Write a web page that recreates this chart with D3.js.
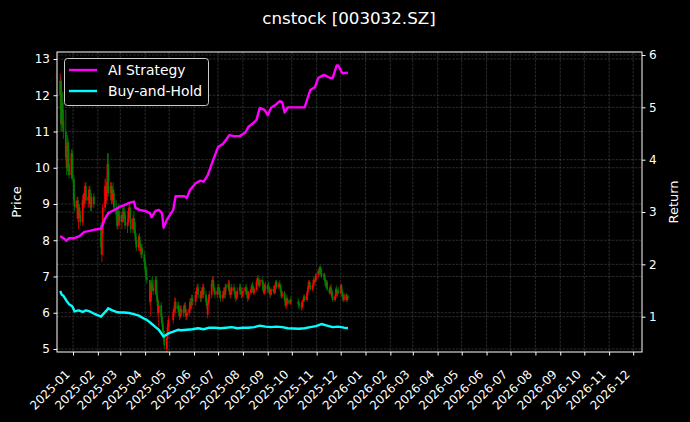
<!DOCTYPE html>
<html><head><meta charset="utf-8">
<script src="https://cdn.jsdelivr.net/npm/d3@7"></script>
<style>
body{margin:0;background:#000;}
svg{display:block;}
text{font-family:"DejaVu Sans",sans-serif;fill:#fff;}
</style>
</head><body>
<svg id="chart" width="690" height="422"></svg>
<script>
// ---------------- DATA ----------------
const chartTitle = "cnstock [003032.SZ]";
const seriesNames = ["AI Strategy", "Buy-and-Hold"];
const priceTicks = [5, 6, 7, 8, 9, 10, 11, 12, 13];
const returnTicks = [1, 2, 3, 4, 5, 6];
const monthLabels = ["2025-01","2025-02","2025-03","2025-04","2025-05","2025-06","2025-07","2025-08","2025-09","2025-10","2025-11","2025-12",
  "2026-01","2026-02","2026-03","2026-04","2026-05","2026-06","2026-07","2026-08","2026-09","2026-10","2026-11","2026-12"];
const firstTradeDay = "2024-12-16";
const lastTradeDay = "2025-12-10";
const marketHolidays = ["2025-01-01","2025-01-28","2025-01-29","2025-01-30","2025-01-31","2025-02-03","2025-02-04",
  "2025-04-04","2025-05-01","2025-05-02","2025-05-05","2025-06-02",
  "2025-10-01","2025-10-02","2025-10-03","2025-10-06","2025-10-07","2025-10-08"];

// daily candles [open, high, low, close]
const ohlc = [
  // 2024-12
  [12.0,12.6,11.6,12.4],[12.4,12.5,11.0,11.2],[11.2,12.0,11.0,11.8],[11.8,12.1,11.1,11.3],[11.3,11.6,10.8,11.0],
  [11.0,11.6,10.2,10.3],[10.3,10.6,9.8,10.0],[10.0,10.9,9.9,10.7],[10.7,10.8,9.9,10.1],[10.1,10.5,9.7,9.8],
  [9.8,10.5,9.7,10.4],[10.4,10.5,9.6,9.7],
  // 2025-01
  [9.7,9.8,9.0,9.1],[9.1,9.3,8.8,8.9],[8.9,9.2,8.6,9.1],[9.1,9.2,8.5,8.6],[8.6,9.0,8.3,8.9],[8.9,9.0,8.6,8.7],
  [8.7,8.8,8.4,8.5],[8.5,9.25,8.4,9.1],[9.1,9.3,8.9,9.0],[9.0,9.4,8.9,9.3],[9.3,9.6,9.1,9.5],[9.5,9.6,9.0,9.1],
  [9.1,9.3,8.9,9.2],[9.2,9.5,9.0,9.4],[9.4,9.5,8.9,9.0],[9.0,9.2,8.8,8.9],[8.9,9.3,8.8,9.2],[9.2,9.3,8.9,9.0],
  // 2025-02
  [8.4,8.5,7.6,7.8],[7.6,8.3,7.4,8.2],[8.2,9.0,8.1,8.9],[8.9,9.7,8.8,9.5],[9.5,9.7,9.0,9.1],[9.1,9.6,9.0,9.4],
  [9.4,10.4,9.3,10.1],[10.1,10.4,9.2,9.3],[9.3,9.6,9.1,9.5],[9.5,9.6,9.0,9.1],[9.1,9.5,9.0,9.4],[9.4,9.6,9.2,9.3],
  [9.3,9.4,8.8,8.9],[8.9,9.1,8.6,8.7],[8.7,8.9,8.3,8.4],[8.4,8.9,8.3,8.8],[8.8,9.0,8.6,8.7],[8.7,8.8,8.4,8.5],
  // 2025-03
  [8.5,8.8,8.3,8.7],[8.7,8.9,8.5,8.6],[8.6,8.9,8.5,8.8],[8.8,9.0,8.6,8.7],[8.7,8.8,8.3,8.4],[8.4,8.6,8.2,8.5],
  [8.5,8.9,8.4,8.8],[8.8,9.05,8.7,8.9],[8.9,9.0,8.5,8.6],[8.6,8.8,8.2,8.3],[8.3,8.7,8.2,8.6],[8.6,8.8,8.4,8.5],
  [8.5,8.6,8.1,8.2],[8.2,8.3,7.9,8.0],[8.0,8.1,7.7,7.8],[7.8,8.15,7.7,8.1],[8.1,8.2,7.8,7.9],[7.9,8.0,7.6,7.7],
  [7.7,7.9,7.5,7.8],[7.8,7.9,7.5,7.6],[7.6,7.7,7.3,7.4],
  // 2025-04
  [7.4,7.5,7.1,7.2],[7.2,7.3,6.9,7.0],[7.0,7.26,6.8,6.9],[6.9,6.9,6.2,6.3],[6.3,6.8,5.9,6.6],[6.6,6.9,6.4,6.8],
  [6.8,7.0,6.6,6.7],[6.7,6.9,6.5,6.6],[6.6,7.0,6.5,6.9],[6.9,7.0,6.4,6.5],[6.5,6.6,6.2,6.3],[6.3,6.4,5.9,6.0],
  [6.0,6.35,5.6,6.2],[6.2,6.3,5.8,5.9],[5.9,6.0,5.6,5.7],[5.7,5.8,5.4,5.5],[5.5,5.6,5.2,5.3],[5.4,5.5,5.0,5.1],
  [5.0,5.4,4.9,5.3],[5.3,5.7,5.25,5.6],[5.6,5.9,5.5,5.8],
  // 2025-05
  [5.8,6.1,5.7,6.0],[6.0,6.2,5.9,6.1],[6.1,6.43,6.0,6.3],[6.3,6.4,6.0,6.1],[6.1,6.3,6.0,6.2],[6.2,6.3,5.9,6.0],
  [6.0,6.1,5.8,5.9],[5.9,6.2,5.85,6.1],[6.1,6.2,5.9,6.0],[6.0,6.2,5.9,6.1],[6.1,6.27,6.0,6.2],[6.2,6.3,5.9,6.0],
  [6.0,6.1,5.8,5.9],[5.9,6.1,5.8,6.0],[6.0,6.2,5.9,6.1],[6.1,6.4,6.0,6.3],[6.3,6.4,6.1,6.2],[6.2,6.5,6.1,6.4],
  [6.4,6.5,6.2,6.3],
  // 2025-06
  [6.3,6.6,6.2,6.5],[6.5,6.7,6.4,6.6],[6.6,6.8,6.5,6.7],[6.7,6.8,6.4,6.5],[6.5,6.6,6.3,6.4],[6.4,6.7,6.3,6.6],
  [6.6,6.7,6.4,6.5],[6.5,6.8,6.4,6.7],[6.7,6.8,6.4,6.5],[6.5,6.6,6.2,6.3],[6.3,6.4,6.1,6.2],[5.95,6.3,5.85,6.25],
  [6.25,6.5,6.2,6.4],[6.4,6.6,6.3,6.5],[6.5,6.9,6.4,6.8],[6.8,7.0,6.7,6.9],[6.9,7.0,6.6,6.7],[6.7,6.8,6.5,6.6],
  [6.6,6.7,6.4,6.5],[6.5,6.7,6.4,6.6],
  // 2025-07
  [6.6,6.8,6.5,6.7],[6.7,6.8,6.5,6.6],[6.6,6.7,6.4,6.5],[6.5,6.6,6.3,6.4],[6.4,6.6,6.3,6.5],[6.5,6.7,6.4,6.6],
  [6.6,6.7,6.4,6.5],[6.5,6.8,6.4,6.7],[6.75,6.8,6.6,6.7],[6.7,6.9,6.6,6.8],[6.8,6.9,6.5,6.6],[6.6,6.7,6.4,6.5],
  [6.5,6.7,6.4,6.6],[6.6,6.8,6.5,6.7],[6.7,6.8,6.5,6.6],[6.6,6.7,6.4,6.5],[6.5,6.6,6.3,6.4],[6.4,6.6,6.35,6.5],
  [6.5,6.7,6.4,6.6],[6.6,6.8,6.5,6.7],[6.7,6.8,6.5,6.6],[6.6,6.7,6.4,6.5],[6.5,6.6,6.4,6.55],
  // 2025-08
  [6.55,6.7,6.45,6.6],[6.6,6.75,6.5,6.7],[6.7,6.8,6.5,6.6],[6.6,6.7,6.4,6.5],[6.5,6.6,6.3,6.4],[6.4,6.6,6.35,6.55],
  [6.55,6.7,6.5,6.65],[6.65,6.8,6.55,6.75],[6.75,6.85,6.6,6.7],[6.7,6.75,6.5,6.55],[6.55,6.7,6.5,6.65],[6.65,6.9,6.6,6.85],
  [6.85,7.0,6.75,6.95],[6.95,7.04,6.8,6.85],[6.85,6.9,6.7,6.75],[6.75,6.95,6.7,6.9],[6.9,7.0,6.8,6.85],[6.85,6.9,6.6,6.65],
  [6.65,6.7,6.5,6.55],[6.55,6.8,6.5,6.75],[6.75,6.85,6.6,6.65],
  // 2025-09
  [6.65,6.8,6.55,6.75],[6.75,6.85,6.6,6.65],[6.65,6.7,6.5,6.55],[6.55,6.6,6.4,6.5],[6.5,6.7,6.45,6.65],[6.65,6.75,6.55,6.6],
  [6.6,6.7,6.5,6.55],[6.55,6.8,6.5,6.75],[6.75,6.9,6.7,6.85],[6.85,6.9,6.65,6.7],[6.7,6.85,6.65,6.8],[6.8,6.9,6.7,6.75],
  [6.75,6.8,6.55,6.6],[6.6,6.65,6.4,6.45],[6.45,6.6,6.4,6.55],[6.55,6.6,6.3,6.35],[6.35,6.4,6.15,6.2],[6.2,6.45,6.1,6.4],
  [6.4,6.5,6.3,6.35],[6.35,6.4,6.2,6.25],[6.25,6.4,6.2,6.35],[6.35,6.45,6.25,6.3],
  // 2025-10
  [6.3,6.4,6.15,6.25],[6.25,6.35,6.1,6.2],[6.2,6.3,6.05,6.15],[6.15,6.35,6.1,6.3],[6.3,6.4,6.2,6.35],[6.35,6.5,6.3,6.45],
  [6.45,6.5,6.3,6.35],[6.35,6.6,6.3,6.55],[6.55,6.75,6.5,6.7],[6.7,6.9,6.65,6.85],[6.85,6.9,6.7,6.75],[6.75,6.85,6.6,6.65],
  [6.65,6.8,6.6,6.75],[6.75,6.95,6.7,6.9],[6.9,7.0,6.8,6.85],[6.85,6.95,6.75,6.9],[6.9,7.1,6.85,7.05],
  // 2025-11
  [7.05,7.2,6.95,7.15],[7.15,7.25,7.0,7.1],[7.1,7.3,7.05,7.25],[7.25,7.3,7.05,7.1],[7.1,7.2,6.95,7.0],[7.0,7.1,6.9,7.05],
  [7.05,7.1,6.85,6.9],[6.9,6.95,6.7,6.75],[6.75,6.9,6.7,6.85],[6.85,6.9,6.6,6.65],[6.65,6.7,6.5,6.55],[6.55,6.75,6.5,6.7],
  [6.7,6.8,6.55,6.6],[6.6,6.65,6.4,6.45],[6.45,6.55,6.3,6.35],[6.35,6.5,6.3,6.45],[6.45,6.7,6.4,6.65],[6.65,6.75,6.5,6.55],
  [6.55,6.65,6.45,6.6],[6.6,6.7,6.5,6.55],
  // 2025-12
  [6.55,6.8,6.5,6.75],[6.75,6.8,6.55,6.6],[6.6,6.65,6.4,6.45],[6.45,6.5,6.3,6.35],[6.35,6.55,6.3,6.5],[6.5,6.55,6.3,6.35],
  [6.35,6.5,6.3,6.45],[6.45,6.5,6.35,6.4]
];

const aiDates = ["2024-12-16","2024-12-18","2024-12-20","2024-12-24","2024-12-27","2025-01-03","2025-01-09","2025-01-15","2025-01-22","2025-01-27",
  "2025-02-05","2025-02-10","2025-02-14","2025-02-19","2025-02-24","2025-02-28","2025-03-06","2025-03-13","2025-03-18","2025-03-20","2025-03-25",
  "2025-04-01","2025-04-07","2025-04-09","2025-04-14","2025-04-18","2025-04-22","2025-04-24","2025-04-28","2025-05-06","2025-05-09","2025-05-14",
  "2025-05-20","2025-05-23","2025-05-27","2025-06-03","2025-06-09","2025-06-13","2025-06-18","2025-06-25","2025-07-01","2025-07-07","2025-07-11",
  "2025-07-15","2025-07-21","2025-07-28","2025-08-04","2025-08-08","2025-08-14","2025-08-18","2025-08-22","2025-08-28","2025-09-01","2025-09-05",
  "2025-09-11","2025-09-16","2025-09-19","2025-09-22","2025-09-26","2025-10-15","2025-10-17","2025-10-24","2025-10-30","2025-11-03","2025-11-10",
  "2025-11-18","2025-11-21","2025-11-26","2025-11-28","2025-12-03","2025-12-10"];
const aiReturn = [2.54,2.52,2.5,2.45,2.5,2.5,2.54,2.62,2.64,2.66,
  2.68,2.88,2.98,3.02,3.06,3.1,3.13,3.18,3.2,3.08,3.04,
  3.02,2.98,2.9,3.02,3.04,2.98,2.7,2.85,3.04,3.3,3.3,
  3.3,3.27,3.42,3.55,3.6,3.58,3.7,4.0,4.24,4.3,4.38,
  4.47,4.45,4.45,4.52,4.63,4.7,4.76,4.99,4.95,4.85,4.99,
  5.05,5.12,5.1,4.9,5.0,5.0,5.0,5.33,5.39,5.56,5.62,
  5.56,5.56,5.8,5.8,5.65,5.66];

const bhDates = ["2024-12-16","2024-12-18","2024-12-20","2024-12-24","2024-12-27","2024-12-31","2025-01-03","2025-01-08","2025-01-13","2025-01-17",
  "2025-01-22","2025-01-27","2025-02-05","2025-02-07","2025-02-12","2025-02-14","2025-02-19","2025-02-24","2025-02-28","2025-03-06","2025-03-12",
  "2025-03-18","2025-03-24","2025-03-31","2025-04-03","2025-04-08","2025-04-14","2025-04-18","2025-04-24","2025-04-28","2025-04-30","2025-05-07",
  "2025-05-12","2025-05-16","2025-05-23","2025-05-30","2025-06-06","2025-06-13","2025-06-20","2025-06-27","2025-07-04","2025-07-11","2025-07-18",
  "2025-07-25","2025-08-01","2025-08-08","2025-08-15","2025-08-22","2025-08-29","2025-09-05","2025-09-12","2025-09-19","2025-09-26","2025-10-10",
  "2025-10-17","2025-10-24","2025-10-31","2025-11-07","2025-11-14","2025-11-21","2025-11-28","2025-12-05","2025-12-10"];
const bhReturn = [1.49,1.42,1.4,1.3,1.24,1.2,1.1,1.12,1.09,1.12,
  1.1,1.06,1.0,1.04,1.12,1.16,1.12,1.09,1.08,1.08,1.07,
  1.05,1.02,0.96,0.94,0.88,0.8,0.75,0.62,0.66,0.68,0.72,
  0.75,0.74,0.75,0.76,0.78,0.76,0.79,0.79,0.78,0.79,0.8,
  0.78,0.79,0.79,0.8,0.83,0.81,0.8,0.81,0.8,0.78,0.77,
  0.78,0.8,0.82,0.86,0.83,0.8,0.81,0.79,0.78];

// ---------------- CHART ----------------
const W = 690, H = 422;
const M = {left: 57, right: 642, top: 52, bottom: 352};
const parse = d3.utcParse("%Y-%m-%d");
const fmt = d3.utcFormat("%Y-%m-%d");
const holidaySet = new Set(marketHolidays);
const tradeDates = d3.utcDays(parse(firstTradeDay), d3.utcDay.offset(parse(lastTradeDay), 1))
  .filter(d => d.getUTCDay() % 6 !== 0 && !holidaySet.has(fmt(d)));
const n = Math.min(tradeDates.length, ohlc.length);
const candles = d3.range(n).map(i => ({date: tradeDates[i], o: ohlc[i][0], h: ohlc[i][1], l: ohlc[i][2], c: ohlc[i][3]}));

const x = d3.scaleUtc().domain([parse("2024-12-12"), parse("2026-12-12")]).range([M.left, M.right]);
const yP = d3.scaleLinear().domain([4.917, 13.193]).range([M.bottom, M.top]);
const yR = d3.scaleLinear().domain([0.3254, 6.0573]).range([M.bottom, M.top]);
const monthDates = monthLabels.map(s => d3.utcParse("%Y-%m")(s));

const svg = d3.select("#chart");
svg.append("rect").attr("width", W).attr("height", H).attr("fill", "#000");

// grid
const grid = svg.append("g").attr("stroke", "#888").attr("stroke-opacity", 0.45)
  .attr("stroke-width", 0.7).attr("stroke-dasharray", "2.6,1.2");
grid.selectAll(".gx").data(monthDates).join("line")
  .attr("x1", d => x(d)).attr("x2", d => x(d)).attr("y1", M.top).attr("y2", M.bottom);
grid.selectAll(".gp").data(priceTicks).join("line").attr("class","gp")
  .attr("x1", M.left).attr("x2", M.right).attr("y1", d => yP(d)).attr("y2", d => yP(d));
grid.selectAll(".gr").data(returnTicks).join("line").attr("class","gr")
  .attr("x1", M.left).attr("x2", M.right).attr("y1", d => yR(d)).attr("y2", d => yR(d));

// candles
const cg = svg.append("g");
cg.selectAll("line").data(candles).join("line")
  .attr("x1", d => x(d.date)).attr("x2", d => x(d.date))
  .attr("y1", d => yP(d.h)).attr("y2", d => yP(d.l))
  .attr("stroke", d => d.c >= d.o ? "#ff0000" : "#008000").attr("stroke-width", 0.8);
cg.selectAll("rect").data(candles).join("rect")
  .attr("x", d => x(d.date) - 0.9).attr("width", 1.8)
  .attr("y", d => yP(Math.max(d.o, d.c)))
  .attr("height", d => Math.max(0.6, Math.abs(yP(d.o) - yP(d.c))))
  .attr("fill", d => d.c >= d.o ? "#ff0000" : "#008000");

// lines
const aiData = aiDates.map((d, i) => ({date: parse(d), v: aiReturn[i]}));
const bhData = bhDates.map((d, i) => ({date: parse(d), v: bhReturn[i]}));
const line = d3.line().x(d => x(d.date)).y(d => yR(d.v));
svg.append("path").datum(bhData).attr("d", line).attr("fill", "none")
  .attr("stroke", "#00ffff").attr("stroke-width", 2.4).attr("stroke-linejoin", "round");
svg.append("path").datum(aiData).attr("d", line).attr("fill", "none")
  .attr("stroke", "#ff00ff").attr("stroke-width", 2.4).attr("stroke-linejoin", "round");

// frame
svg.append("rect").attr("x", M.left).attr("y", M.top).attr("width", M.right - M.left).attr("height", M.bottom - M.top)
  .attr("fill", "none").attr("stroke", "#fff").attr("stroke-width", 1);

// axes
const axB = svg.append("g").attr("transform", `translate(0,${M.bottom})`)
  .call(d3.axisBottom(x).tickValues(monthDates).tickSize(3.5).tickFormat(""));
axB.selectAll(".tick").append("text")
  .attr("transform", "translate(-3,23) rotate(-45)")
  .attr("text-anchor", "end").attr("font-size", 12).text((d, i) => monthLabels[i]);
const axL = svg.append("g").attr("transform", `translate(${M.left},0)`)
  .call(d3.axisLeft(yP).tickValues(priceTicks).tickSize(3.5).tickPadding(3.5).tickFormat(d3.format("d")));
const axR = svg.append("g").attr("transform", `translate(${M.right},0)`)
  .call(d3.axisRight(yR).tickValues(returnTicks).tickSize(3.5).tickPadding(3.5).tickFormat(d3.format("d")));
[axB, axL, axR].forEach(a => {
  a.select(".domain").remove();
  a.selectAll(".tick line").attr("stroke", "#fff");
  a.selectAll(".tick text").attr("fill", "#fff").attr("font-size", 12).attr("font-family", "DejaVu Sans");
});

// labels
svg.append("text").attr("x", 349).attr("y", 24).attr("text-anchor", "middle").attr("font-size", 16.7).text(chartTitle);
svg.append("text").attr("transform", `translate(21,${(M.top + M.bottom) / 2}) rotate(-90)`)
  .attr("text-anchor", "middle").attr("font-size", 13).text("Price");
svg.append("text").attr("transform", `translate(678,${(M.top + M.bottom) / 2}) rotate(-90)`)
  .attr("text-anchor", "middle").attr("font-size", 13).text("Return");

// legend
const lg = svg.append("g");
lg.append("rect").attr("x", 64.5).attr("y", 58.5).attr("width", 144).attr("height", 47).attr("rx", 3)
  .attr("fill", "#000").attr("fill-opacity", 0.85).attr("stroke", "#ccc").attr("stroke-width", 1);
const colors = ["#ff00ff", "#00ffff"];
seriesNames.forEach((name, i) => {
  const yy = 70 + i * 21;
  lg.append("line").attr("x1", 69).attr("x2", 97).attr("y1", yy).attr("y2", yy)
    .attr("stroke", colors[i]).attr("stroke-width", 2.4);
  lg.append("text").attr("x", 108).attr("y", yy + 5).attr("font-size", 13.9).text(name);
});
</script>
</body></html>
